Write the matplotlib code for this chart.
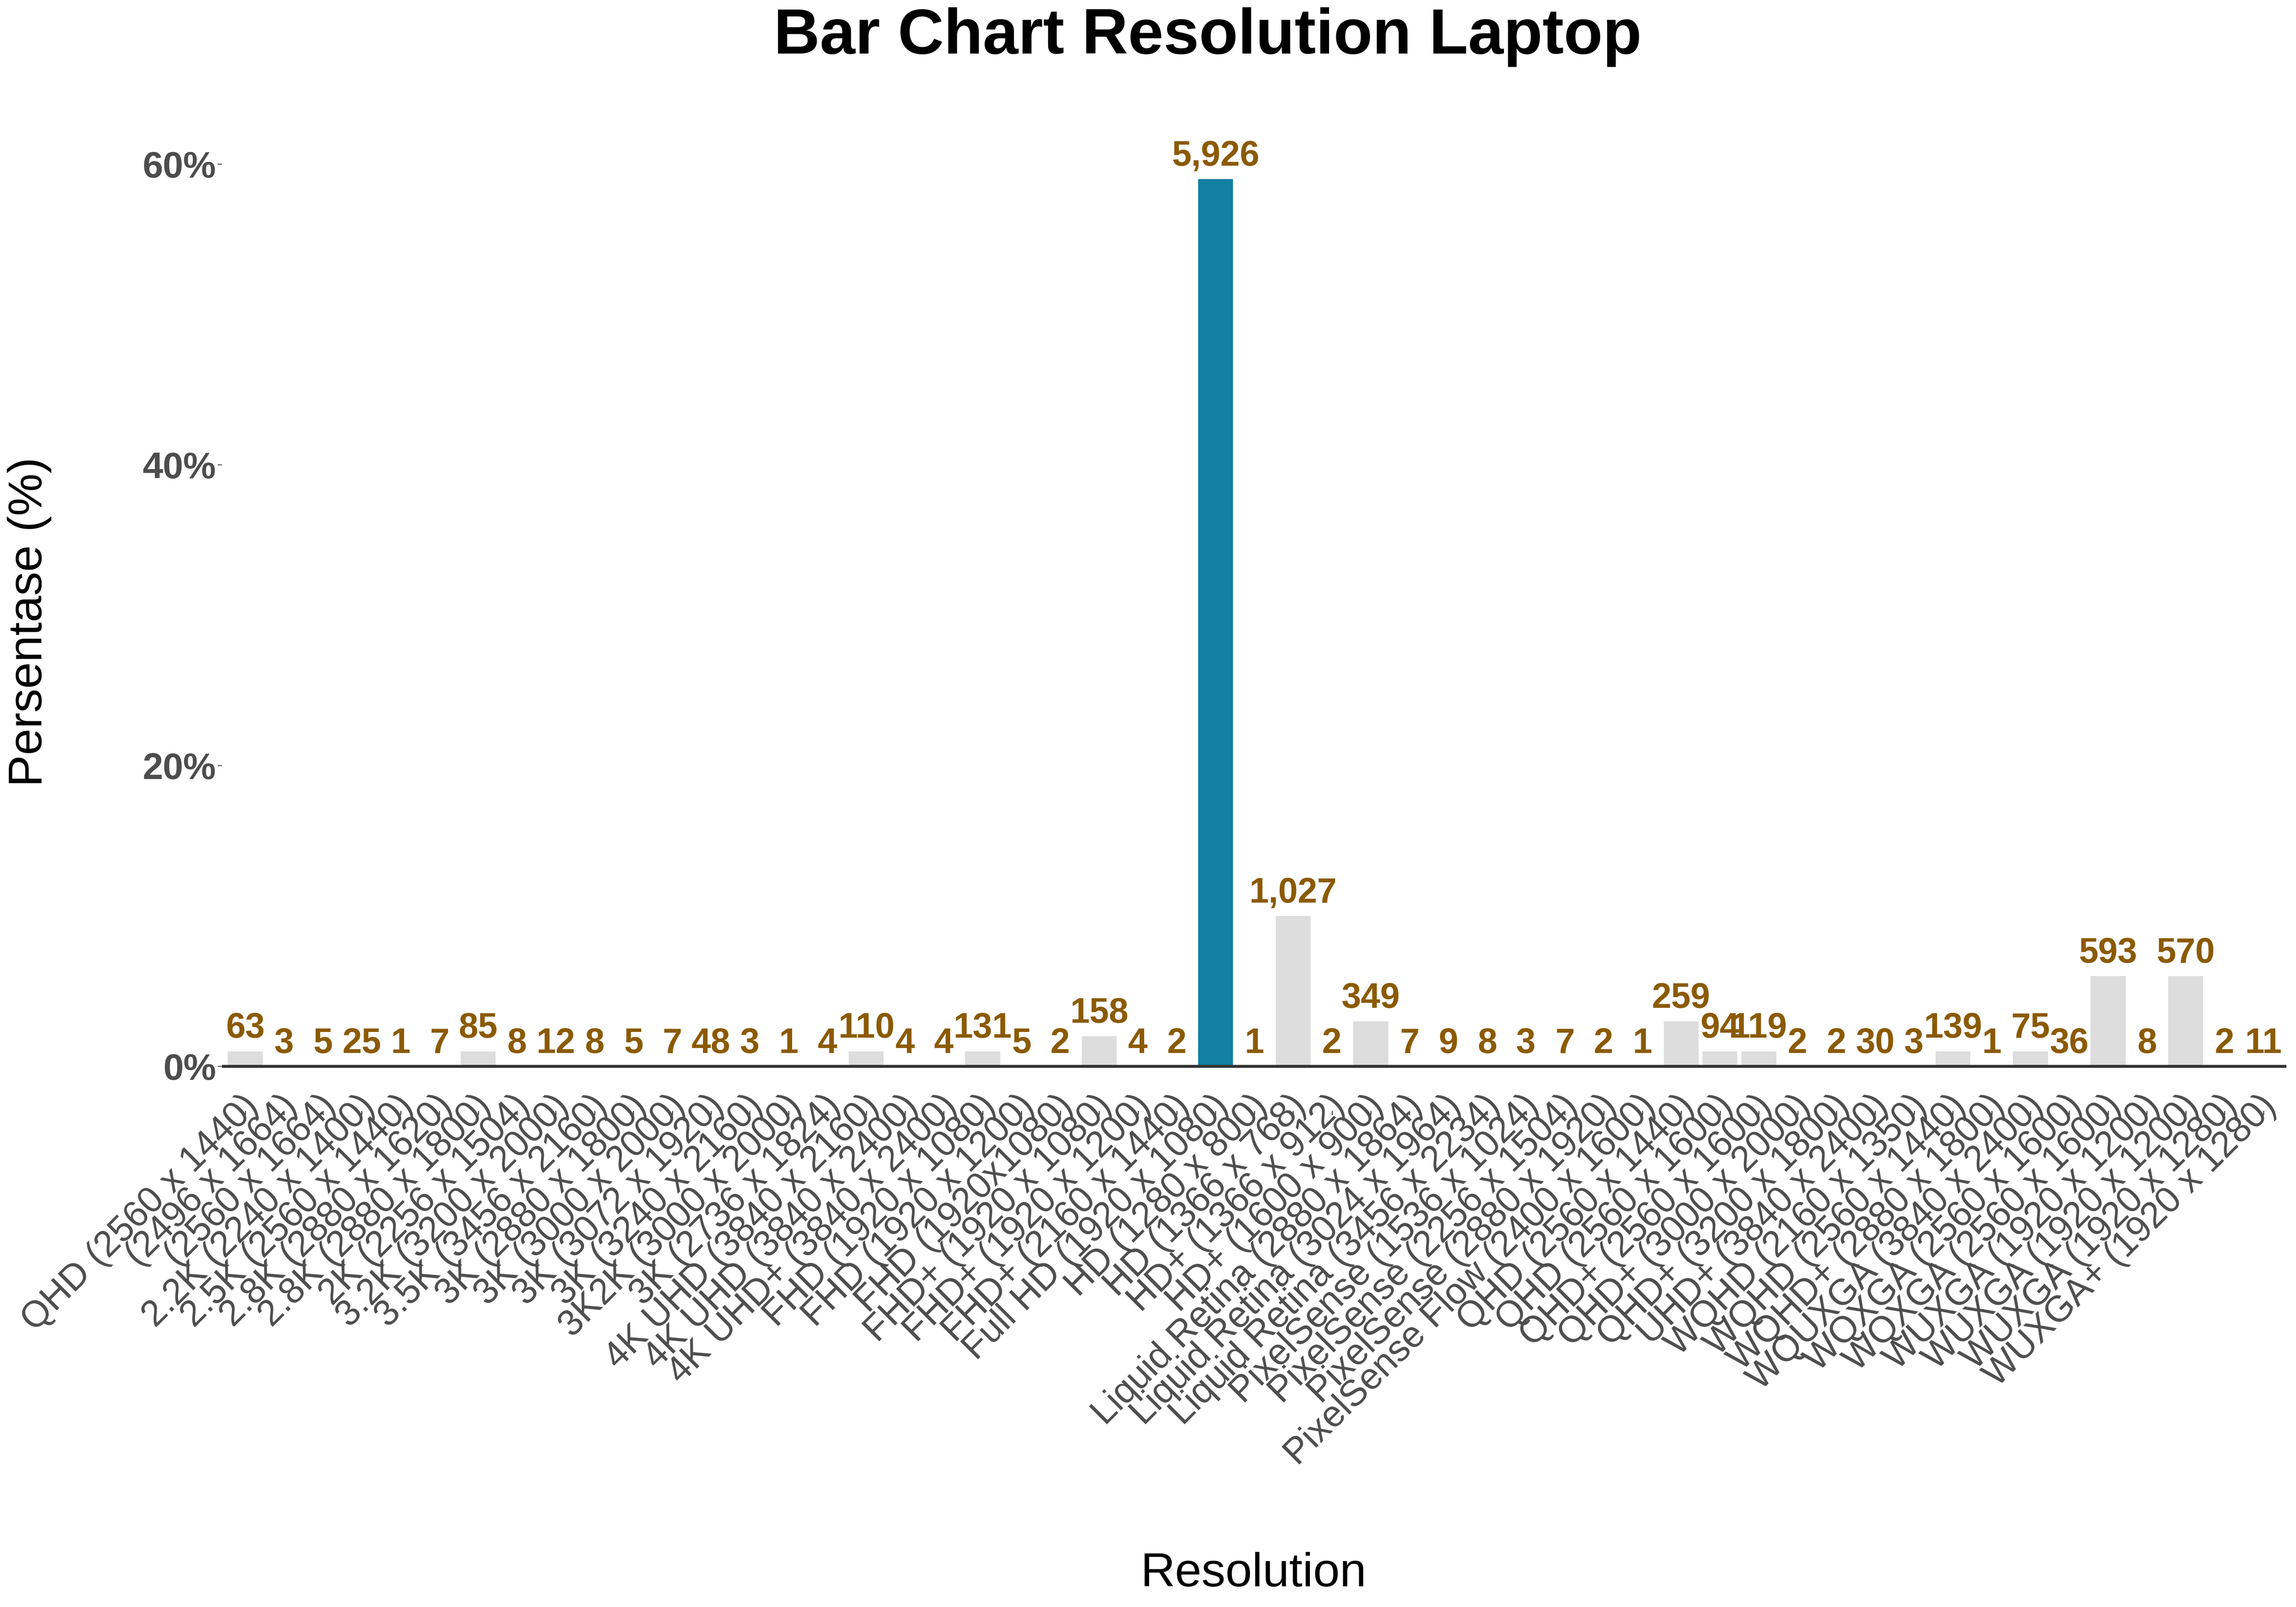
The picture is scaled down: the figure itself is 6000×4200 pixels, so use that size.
import matplotlib
matplotlib.use("Agg")
import matplotlib.pyplot as plt
import matplotlib.transforms as mtransforms
import numpy as np

plt.rcParams['font.family'] = ['Liberation Sans', 'DejaVu Sans']

# resolution categories (factor order as in the reference)
resolutions = [
    "QHD (2560 x 1440)", "(2496 x 1664)", "(2560 x 1664)",
    "2.2K (2240 x 1400)", "2.5K (2560 x 1440)", "2.8K (2880 x 1620)",
    "2.8K (2880 x 1800)", "2K (2256 x 1504)", "3.2K (3200 x 2000)",
    "3.5K (3456 x 2160)", "3K (2880 x 1800)", "3K (3000 x 2000)",
    "3K (3072 x 1920)", "3K (3240 x 2160)", "3K2K (3000 x 2000)",
    "3K (2736 x 1824)", "4K UHD (3840 x 2160)", "4K UHD (3840 x 2400)",
    "4K UHD+ (3840 x 2400)", "FHD (1920 x 1080)", "FHD (1920 x 1200)",
    "FHD (1920x1080)", "FHD+ (1920 x 1080)", "FHD+ (1920 x 1200)",
    "FHD+ (2160 x 1440)", "Full HD (1920 x 1080)", "HD (1280 x 800)",
    "HD (1366 x 768)", "HD+ (1366 x 912)", "HD+ (1600 x 900)",
    "Liquid Retina (2880 x 1864)", "Liquid Retina (3024 x 1964)",
    "Liquid Retina (3456 x 2234)", "PixelSense (1536 x 1024)",
    "PixelSense (2256 x 1504)", "PixelSense (2880 x 1920)",
    "PixelSense Flow (2400 x 1600)", "QHD (2560 x 1440)", "QHD (2560 x 1600)",
    "QHD+ (2560 x 1600)", "QHD+ (3000 x 2000)", "QHD+ (3200 x 1800)",
    "UHD+ (3840 x 2400)", "WQHD (2160 x 1350)", "WQHD (2560 x 1440)",
    "WQHD+ (2880 x 1800)", "WQUXGA (3840 x 2400)", "WQXGA (2560 x 1600)",
    "WQXGA (2560 x 1600)", "WUXGA (1920 x 1200)", "WUXGA (1920 x 1200)",
    "WUXGA (1920 x 1280)", "WUXGA+ (1920 x 1280)",
]

# number of laptops per resolution
counts = [
    63, 3, 5, 25, 1, 7, 85, 8, 12, 8, 5, 7, 48, 3, 1, 4, 110, 4, 4, 131,
    5, 2, 158, 4, 2, 5926, 1, 1027, 2, 349, 7, 9, 8, 3, 7, 2, 1, 259, 94,
    119, 2, 2, 30, 3, 139, 1, 75, 36, 593, 8, 570, 2, 11,
]

y_ticks = [0, 20, 40, 60]

grey = "#dddddd"
blue = "#1380A1"
label_col = "#8B5A00"

counts = np.array(counts)
pct = np.round(counts / counts.sum() * 100)
x = np.arange(len(counts))
colors = [blue if c == counts.max() else grey for c in counts]

fig = plt.figure(figsize=(20, 14), dpi=300)
ax = fig.add_axes([0.0967, 0.3088, 0.8992, 0.6074])

ax.bar(x, pct, width=0.9, color=colors, zorder=2)
ax.axhline(0, color="#333333", linewidth=1.85, zorder=3)

for i in range(len(counts)):
    ax.annotate(f"{counts[i]:,}", (x[i], pct[i]), xytext=(0, 8.5),
                textcoords="offset points", ha="center", va="baseline",
                fontsize=22, fontweight="bold", color=label_col, zorder=4)

ax.set_xlim(-0.6, len(counts) - 0.4)
ax.set_ylim(-2.95, 61.95)

ax.set_yticks(y_ticks)
ax.set_yticklabels([f"{t}%" for t in y_ticks], fontsize=23, fontweight="bold",
                   color="#4D4D4D")
ax.set_xticks(x)
ax.set_xticklabels(resolutions, rotation=45, ha="right", va="baseline",
                   rotation_mode="anchor", fontsize=23, color="#4D4D4D")
ax.tick_params(axis="y", length=2.75, width=0.5, color="#333333", pad=1)
ax.tick_params(axis="x", length=2.75, width=0.6, color="#333333", pad=-4.8)

# nudge the rotated labels a little to the right
shift = mtransforms.ScaledTranslation(9 / 72, 0, fig.dpi_scale_trans)
for lbl in ax.get_xticklabels():
    lbl.set_transform(lbl.get_transform() + shift)

for s in ax.spines.values():
    s.set_visible(False)

fig.text(0.526, 0.977, "Bar Chart Resolution Laptop", ha="center", va="center",
         fontsize=40, fontweight="bold", color="black")
fig.text(0.0128, 0.6129, "Persentase (%)", rotation=90, ha="center",
         va="center", fontsize=30, color="black")
fig.text(0.546, 0.0205, "Resolution", ha="center", va="center",
         fontsize=30, color="black")

fig.savefig("out.png", dpi=300)
